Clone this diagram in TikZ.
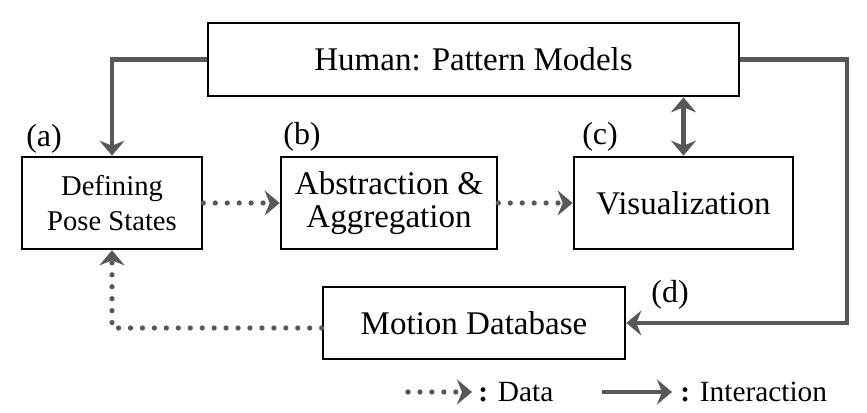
\documentclass[tikz,border=0pt]{standalone}
\usepackage{fontspec}
\setmainfont{LiberationSerif}[Extension=.ttf, UprightFont=*-Regular, BoldFont=*-Bold, ItalicFont=*-Italic, BoldItalicFont=*-BoldItalic]
\usetikzlibrary{arrows.meta, positioning}
\definecolor{linegray}{RGB}{88,88,88}

\begin{document}
\begin{tikzpicture}
		\tikzstyle{Box} = [rectangle, draw=black, line width=1.5pt, fill=white, text centered, align=center, inner sep=0pt, font=\fontsize{18.8}{19}\selectfont]
		\tikzstyle{Label} = [font=\fontsize{18.2}{20}\selectfont]
		\tikzstyle{Legend} = [anchor=west, inner sep=0pt, font=\fontsize{16.7}{19}\selectfont]
		\tikzstyle{flow} = [linegray, line width=2.8pt, ->, >={Stealth[length=3mm, width=5mm, inset=1mm]}]
		\tikzstyle{data} = [linegray, line width=3pt, line cap=round, dash pattern=on 0pt off 6.8pt, ->, >={Stealth[length=3mm, width=5mm, inset=1mm]}]
		
		\useasboundingbox (0,0) rectangle (17.34,8.26);
		
		\node (hm) [Box, minimum width=10.62cm, minimum height=1.46cm] at (9.47,7.07) {Human: Pattern Models};
		
		\node (ps) [Box, minimum width=3.6cm, minimum height=1.84cm, font=\fontsize{16.3}{20}\selectfont] at (2.24,4.20) {Defining\\Pose States};
		\node (ag) [Box, minimum width=4.32cm, minimum height=1.84cm] at (7.78,4.20) {Abstraction \&\\Aggregation};
		\node (vi) [Box, minimum width=4.38cm, minimum height=1.84cm] at (13.67,4.20) {Visualization};
		\node (la) [Label] at (0.88,5.48) {(a)};
		\node (lb) [Label] at (6.04,5.52) {(b)};
		\node (lc) [Label] at (12.00,5.52) {(c)};
		
		\node (md) [Box, minimum width=6.04cm, minimum height=1.44cm] at (9.48,1.80) {Motion Database};
		\node (ld) [Label] at (13.40,2.36) {(d)};
		
		\coordinate (rc) at (16.94,1.80);
		\draw [flow] (hm.west) -| (ps.north);
		\draw [flow] (hm.east) -| (rc) -- (md.east);
		\draw [flow, <->] (vi.north) -- (vi.north |- hm.south);
		
		\draw [data] (ps.east) -- (ag.west);
		\draw [data] (ag.east) -- (vi.west);
		\draw [data] ([yshift=-0.1cm]md.west) -| (ps.south);
		
		\coordinate (d1) at (8.16,0.42);
		\coordinate (d2) at (9.44,0.42);
		\coordinate (i1) at (12.04,0.42);
		\coordinate (i2) at (13.44,0.42);
		\draw [data] (d1) -- (d2);
		\node (dt) [Legend] at (9.56,0.42) {\textbf{:} Data};
		\draw [flow] (i1) -- (i2);
		\node (it) [Legend] at (13.60,0.42) {\textbf{:} Interaction};
\end{tikzpicture}
\end{document}
